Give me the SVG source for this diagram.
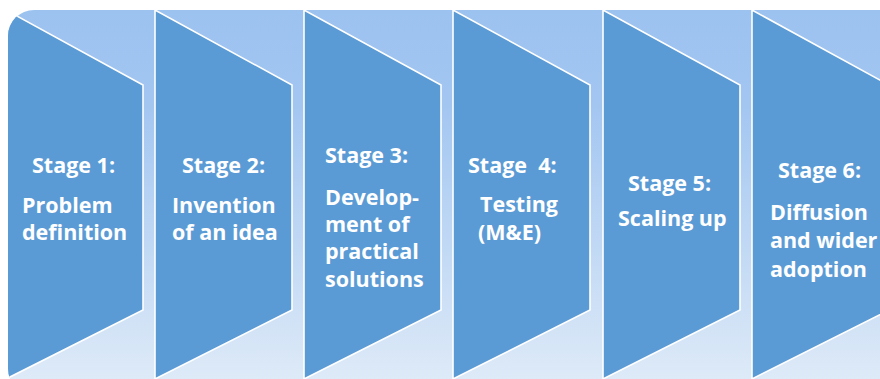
<svg xmlns="http://www.w3.org/2000/svg" width="880" height="379" viewBox="0 0 880 379">
<defs>
<linearGradient id="bg" x1="0" y1="0" x2="0" y2="1">
<stop offset="0" stop-color="#9CC2F0"/>
<stop offset="0.25" stop-color="#A3C6F1"/>
<stop offset="1" stop-color="#E1ECF8"/>
</linearGradient>
<clipPath id="clip"><rect x="8" y="10" width="900" height="385" rx="26"/></clipPath>
<style>
.stage{fill:#5B9BD5;stroke:#FFFFFF;stroke-width:1.6;stroke-linejoin:miter}
.t{font-family:"Open Sans","Noto Sans",sans-serif;font-weight:700;font-size:21.5px;fill:#FFFFFF}
</style>
</defs>
<rect x="0" y="0" width="880" height="379" fill="#FFFFFF"/>
<rect x="8" y="10" width="900" height="385" rx="26" fill="url(#bg)"/>
<g clip-path="url(#clip)">
<g id="stage1"><polygon class="stage" points="6,10 143,85 143,310 6,379"/>
<text class="t"><tspan x="32" y="173">Stage 1:</tspan><tspan x="22" y="213">Problem</tspan><tspan x="22" y="240">definition</tspan></text></g>
<g id="stage2"><polygon class="stage" points="155,10 292,85 292,310 155,379"/>
<text class="t"><tspan x="182" y="173">Stage 2:</tspan><tspan x="172" y="213">Invention</tspan><tspan x="172" y="240">of an idea</tspan></text></g>
<g id="stage3"><polygon class="stage" points="304,10 441,85 441,310 304,379"/>
<text class="t"><tspan x="325" y="163">Stage 3:</tspan><tspan x="325" y="205">Develop-</tspan><tspan x="325" y="232">ment of</tspan><tspan x="325" y="259">practical</tspan><tspan x="325" y="287">solutions</tspan></text></g>
<g id="stage4"><polygon class="stage" points="453,10 590,85 590,310 453,379"/>
<text class="t" xml:space="preserve"><tspan x="468" y="173">Stage  4:</tspan><tspan x="480" y="212">Testing</tspan><tspan x="478" y="240">(M&amp;E)</tspan></text></g>
<g id="stage5"><polygon class="stage" points="603,10 740,85 740,310 603,379"/>
<text class="t"><tspan x="628" y="191">Stage 5:</tspan><tspan x="618" y="226">Scaling up</tspan></text></g>
<g id="stage6"><polygon class="stage" points="752,10 889,85 889,310 752,379"/>
<text class="t"><tspan x="778" y="178">Stage 6:</tspan><tspan x="770" y="220">Diffusion</tspan><tspan x="770" y="248">and wider</tspan><tspan x="770" y="277">adoption</tspan></text></g>
</g>
<g id="connectors"/>
</svg>
